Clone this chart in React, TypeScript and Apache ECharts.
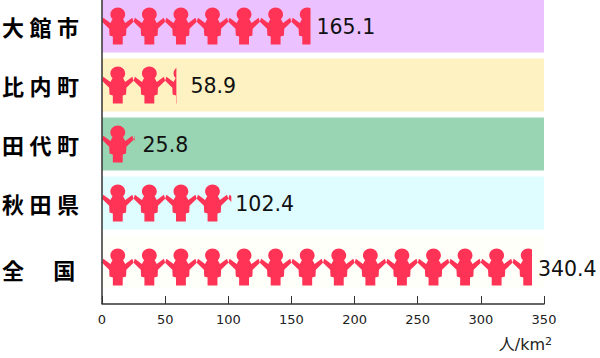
import React, { useEffect, useRef } from "react";
import * as echarts from "echarts";

const categories = ["大館市", "比内町", "田代町", "秋田県", "全　国"];
const densities = [165.1, 58.9, 25.8, 102.4, 340.4];
const bandColors = ["#EBC2FF", "#FFF2C2", "#99D4B3", "#DFFCFF", "#FFFFFA"];
const axisMax = 350;

const PERSON =
  "path://M16 0C11.9 0 8.5 3.1 8.5 7C8.5 8.9 9.3 10.5 10.7 11.6L8.5 15.5L1.3 10.3L0 14.3L7.3 21.3L7.6 28L11 29L11 37L21 37L21 29L24.4 28L24.7 21.3L32 14.3L30.7 10.3L23.5 15.5L21.3 11.6C22.7 10.5 23.5 8.9 23.5 7C23.5 3.1 20.1 0 16 0Z";

const textColor = "#222";
const labelFont = { fontFamily: "Noto Sans CJK JP", fontWeight: 700, fontSize: 22, color: "#000" };

export default function App() {
  const ref = useRef<HTMLDivElement>(null);
  useEffect(() => {
    const chart = echarts.init(ref.current!, undefined, { renderer: "svg" });
    chart.setOption({
      animation: false,
      backgroundColor: "#fff",
      grid: { left: 102, width: 442, top: -3.5, height: 295, outerBoundsMode: "none" },
      xAxis: {
        type: "value",
        min: 0,
        max: axisMax,
        interval: 50,
        offset: 12.5,
        splitLine: { show: false },
        axisLine: { show: true, lineStyle: { color: "#333", width: 1.5 } },
        axisTick: { show: true, inside: true, length: 8, lineStyle: { color: "#333", width: 1 } },
        axisLabel: { fontFamily: "DejaVu Sans", fontSize: 13, color: textColor, margin: 9 },
        name: "{a|人/km}{s|2}",
        nameLocation: "end",
        nameGap: 8,
        nameTextStyle: {
          align: "right",
          verticalAlign: "top",
          padding: [32, 0, 0, 0],
          rich: {
            a: { fontFamily: "DejaVu Sans, Noto Sans CJK JP", fontSize: 16, color: textColor, verticalAlign: "bottom" },
            s: { fontFamily: "DejaVu Sans", fontSize: 11, color: textColor, verticalAlign: "top" },
          },
        },
      },
      yAxis: {
        type: "category",
        inverse: true,
        data: categories,
        axisLine: { show: false },
        axisTick: { show: false },
        axisLabel: {
          ...labelFont,
          align: "left",
          margin: 100,
          formatter: (v: string, i: number) => {
            return i === 4
              ? `{low|${Array.from(v).join("\u2006")}}`
              : Array.from(v).join("\u2005");
          },
          rich: { low: { ...labelFont, padding: [14, 0, 0, 0] } },
        },
      },
      series: [
        {
          type: "bar",
          barWidth: 53,
          barGap: "-100%",
          silent: true,
          z: 1,
          data: categories.map((_, i) => ({ value: axisMax, itemStyle: { color: bandColors[i] } })),
        },
        {
          type: "bar",
          barWidth: 53,
          barGap: "-100%",
          z: 3,
          itemStyle: { color: "transparent" },
          data: densities.map((v, i) => ({
            value: v,
            label: {
              show: true,
              position: "right",
              distance: [6, 14, 8, 4, 6][i],
              offset: i === 4 ? [0, 7] : [0, 1],
              fontFamily: "DejaVu Sans",
              fontSize: 20.5,
              color: "#111",
              formatter: (p: any) => Number(p.value).toFixed(1),
            },
          })),
        },
        {
          type: "pictorialBar",
          z: 2,
          symbol: PERSON,
          symbolSize: [442 / 14, 37],
          symbolRepeat: true,
          symbolMargin: 0,
          symbolClip: true,
          symbolBoundingData: axisMax,
          symbolPosition: "start",
          itemStyle: { color: "#FF3355" },
          data: densities.map((v, i) => ({
            value: v,
            symbolOffset: i === 4 ? [0, 5] : [0, 0],
          })),
        },
      ],
      graphic: [
        {
          type: "line",
          z: 10,
          shape: { x1: 102, y1: 0, x2: 102, y2: 304 },
          style: { stroke: "#333", lineWidth: 1.5 },
        },
      ],
    });
    return () => chart.dispose();
  }, []);
  return (
    <div
      ref={ref}
      style={{ position: "absolute", left: 0, top: 0, width: 600, height: 358 }}
    />
  );
}
